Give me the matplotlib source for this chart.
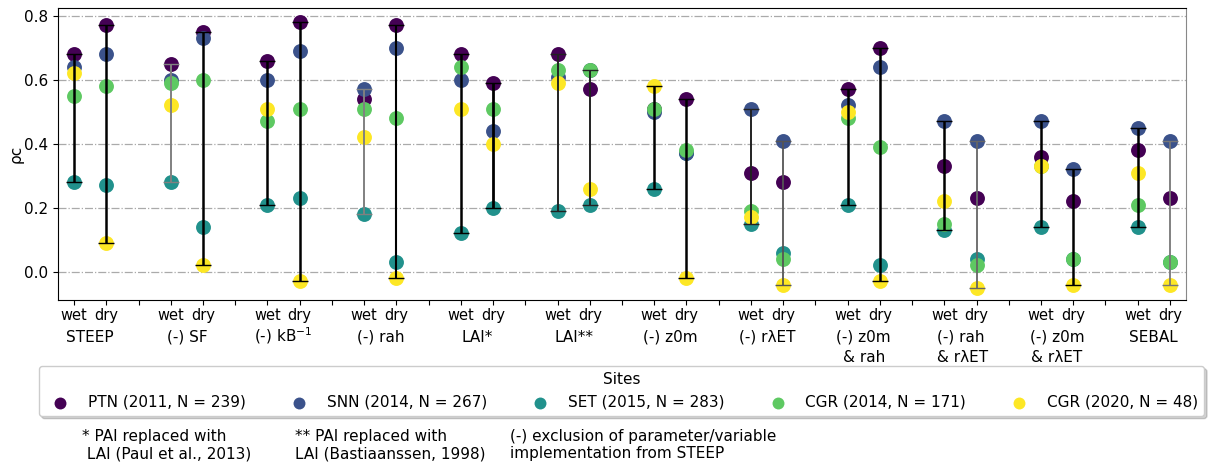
import numpy as np
import matplotlib
matplotlib.use("Agg")
import matplotlib.pyplot as plt

# ---------------- data ----------------
groups = ['STEEP', '(-) SF', '(-) kB$^{-1}$', '(-) rah', 'LAI*', 'LAI**',
          '(-) z0m', '(-) rλET', '(-) z0m\n& rah', '(-) rah\n & rλET',
          '(-) z0m\n& rλET', 'SEBAL']
conditions = ['wet', 'dry']
sites = ['PTN (2011, N = 239)', 'SNN (2014, N = 267)', 'SET (2015, N = 283)',
         'CGR (2014, N = 171)', 'CGR (2020, N = 48)']

ptn_wet = [0.68, 0.65, 0.66, 0.54, 0.68, 0.68, 0.51, 0.31, 0.57, 0.33, 0.36, 0.38]
ptn_dry = [0.77, 0.75, 0.78, 0.77, 0.59, 0.57, 0.54, 0.28, 0.70, 0.23, 0.22, 0.23]
snn_wet = [0.64, 0.60, 0.60, 0.57, 0.60, 0.61, 0.50, 0.51, 0.52, 0.47, 0.47, 0.45]
snn_dry = [0.68, 0.73, 0.69, 0.70, 0.44, 0.63, 0.37, 0.41, 0.64, 0.41, 0.32, 0.41]
set_wet = [0.28, 0.28, 0.21, 0.18, 0.12, 0.19, 0.26, 0.15, 0.21, 0.13, 0.14, 0.14]
set_dry = [0.27, 0.14, 0.23, 0.03, 0.20, 0.21, 0.37, 0.06, 0.02, 0.04, 0.04, 0.03]
cgr14_wet = [0.55, 0.59, 0.47, 0.51, 0.64, 0.63, 0.51, 0.19, 0.48, 0.15, 0.33, 0.21]
cgr14_dry = [0.58, 0.60, 0.51, 0.48, 0.51, 0.63, 0.38, 0.04, 0.39, 0.02, 0.04, 0.03]
cgr20_wet = [0.62, 0.52, 0.51, 0.42, 0.51, 0.59, 0.58, 0.17, 0.50, 0.22, 0.33, 0.31]
cgr20_dry = [0.09, 0.02, -0.03, -0.02, 0.40, 0.26, -0.02, -0.04, -0.03, -0.05, -0.04, -0.04]

values = np.array([[ptn_wet, ptn_dry], [snn_wet, snn_dry], [set_wet, set_dry],
                   [cgr14_wet, cgr14_dry], [cgr20_wet, cgr20_dry]])  # site, cond, group

# ---------------- styles ----------------
site_colors = ['#440154', '#3b528b', '#21918c', '#5ec962', '#fde725']
site_z = [2.1, 2.2, 2.0, 2.3, 2.4]
# range line style per (group, condition)
range_colors = ['k', 'k', 'gray', 'k', 'k', 'k', 'gray', 'k', 'k', 'k', '#222222', '#222222',
                'k', 'k', '#222222', '#555555', 'k', 'k', 'k', '#666666', 'k', 'k', 'k', '#777777']
range_lw = [1.8, 1.8, 1.4, 1.8, 1.8, 1.8, 1.4, 1.5, 1.8, 2.0, 1.4, 1.4,
            1.8, 1.8, 1.4, 1.3, 1.8, 1.8, 1.8, 1.3, 1.8, 1.8, 1.8, 1.3]

plt.rcParams['font.family'] = ['DejaVu Sans']

fig = plt.figure(figsize=(12.14, 4.67), dpi=100)
ax = fig.add_axes([58/1214, 1-300/467, (1186-58)/1214, (300-8)/467])

n_g = len(groups)
pos = np.array([[3*g + c for g in range(n_g)] for c in range(2)])  # cond, group

for s in range(len(sites)):
    for c in range(2):
        ax.scatter(pos[c], values[s, c], s=115, color=site_colors[s],
                   zorder=site_z[s], linewidths=0,
                   label=sites[s] if c == 0 else None)

k = 0
for g in range(n_g):
    for c in range(2):
        v = values[:, c, g]
        lo, hi = v.min(), v.max()
        ax.errorbar([pos[c, g]], [(lo+hi)/2], yerr=[(hi-lo)/2], fmt='none',
                    ecolor=range_colors[k], elinewidth=range_lw[k],
                    capsize=5.5, capthick=1.0, zorder=3)
        k += 1

ax.set_xlim(-0.5, 3*n_g - 1.5)
ax.set_ylim(-0.088, 0.824)
ax.set_yticks([0.0, 0.2, 0.4, 0.6, 0.8])
ax.set_yticklabels(['0.0', '0.2', '0.4', '0.6', '0.8'], fontsize=11)
ticks = np.arange(0, 3*n_g - 1)
labels = [conditions[t % 3] if t % 3 < 2 else '' for t in ticks]
ax.set_xticks(ticks)
ax.set_xticklabels(labels, fontsize=10.5)
ax.tick_params(axis='x', pad=2)
ax.set_ylabel('ρc', fontsize=11, labelpad=0)
ax.yaxis.grid(True, linestyle='-.', color='#aaaaaa', linewidth=0.9)
ax.set_axisbelow(True)
ax.spines['right'].set_color('#888888')

for g in range(n_g):
    for li, line in enumerate(groups[g].split('\n')):
        ax.annotate(line, xy=(3*g + 0.5, 0), xycoords=('data', 'axes fraction'),
                    xytext=(0, -30 - 15*li), textcoords='offset points',
                    ha='center', va='baseline', fontsize=11)

leg = fig.legend(loc='upper center', bbox_to_anchor=(621.5/1214, 1-366/467),
                 ncol=5, title='Sites', fontsize=11, title_fontsize=11,
                 fancybox=True, shadow={'alpha': 0.25}, handletextpad=0.8,
                 columnspacing=2.5, borderaxespad=0, scatterpoints=1, markerscale=0.8)

notes = ['* PAI replaced with\n LAI (Paul et al., 2013)',
         '** PAI replaced with\nLAI (Bastiaanssen, 1998)',
         '(-) exclusion of parameter/variable\nimplementation from STEEP']
note_x = [82, 295, 510]
for t, x in zip(notes, note_x):
    fig.text(x/1214, 1-429/467, t, ha='left', va='top', fontsize=11)

fig.savefig('out.png', dpi=100)
